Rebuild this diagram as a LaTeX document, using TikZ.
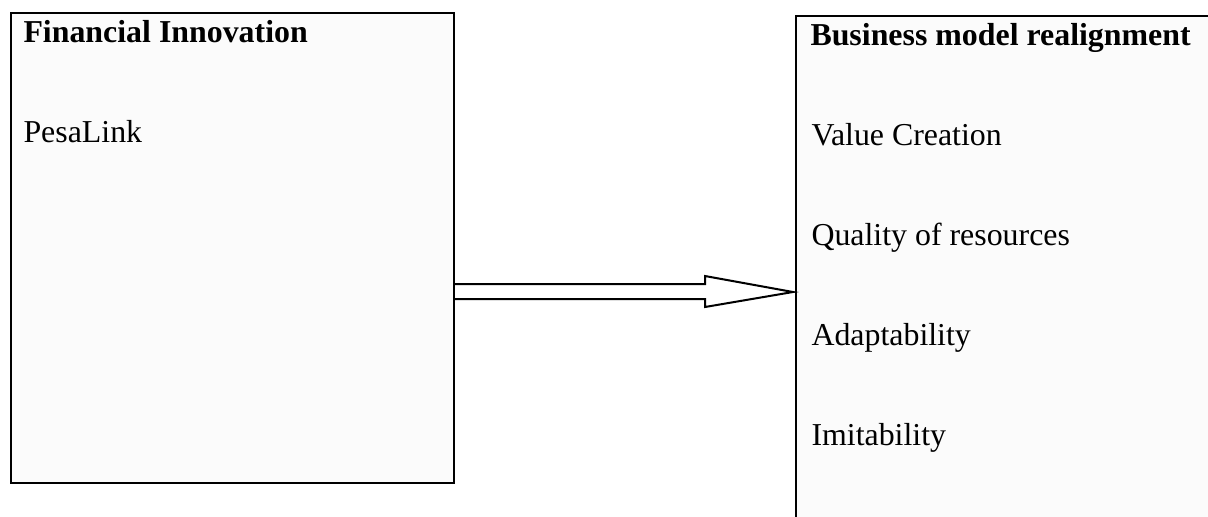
\documentclass[tikz,border=0pt]{standalone}
\usepackage{fontspec}
\setmainfont{Liberation Serif}
\usetikzlibrary{positioning,calc}
\definecolor{boxgray}{RGB}{251,251,251}
\tikzset{
	box/.style={draw=black, line width=0.8pt, fill=boxgray, inner sep=0pt, anchor=north west},
	item/.style={anchor=base west, inner sep=0pt, font=\fontsize{12.75}{15}\selectfont},
	head/.style={item, font=\fontsize{12.75}{15}\selectfont\bfseries},
	blockarrow/.style={draw=black, line width=0.8pt, fill=white, line join=miter},
}
\begin{document}
\begin{tikzpicture}[x=0.4pt,y=-0.4pt]
		\useasboundingbox (0,0) rectangle (1208,516);
		\begin{scope}
			\clip (0,0) rectangle (1208,516);
			\node[box, minimum width=177.2pt, minimum height=188pt] (fin) at (10,12) {};
			\node[box, minimum width=170pt, minimum height=205pt] (biz) at (795,15) {};
		\end{scope}

		\node[head] (finhead) at (23,42) {Financial Innovation};
		\node[item] (pesa) at (23,142) {PesaLink};

		\node[head] (bizhead) at (810,45) {Business model realignment};
		\foreach \name/\txt [count=\i] in {value/Value Creation, quality/Quality of resources, adapt/Adaptability, imit/Imitability}
			\node[item] (\name) at (811,45+100*\i) {\txt};

		% hollow block arrow from one box to the other
		\coordinate (tip) at ($(biz.west |- 0,292)+(-0.8pt,0)$);
		\coordinate (neck) at (705,292);
		\draw[blockarrow] (fin.east |- 0,284) -- (neck |- 0,284) -- (neck |- 0,276) -- (tip)
			-- (neck |- 0,307) -- (neck |- 0,299) -- (fin.east |- 0,299);
	\end{tikzpicture}
\end{document}
